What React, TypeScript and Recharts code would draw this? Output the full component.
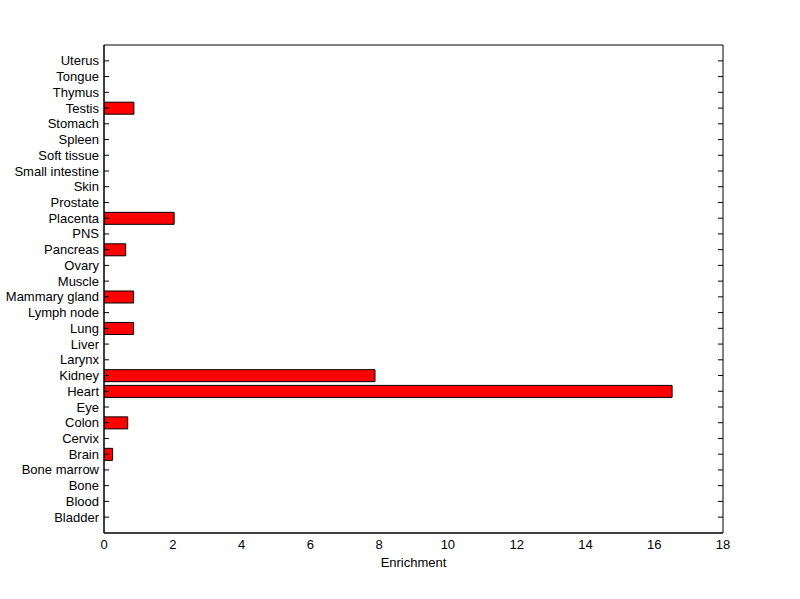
import { Bar, BarChart, XAxis, YAxis } from "recharts";

// bottom to top, as on the chart
const TISSUES = [
  "Bladder", "Blood", "Bone", "Bone marrow", "Brain", "Cervix", "Colon", "Eye",
  "Heart", "Kidney", "Larynx", "Liver", "Lung", "Lymph node", "Mammary gland",
  "Muscle", "Ovary", "Pancreas", "PNS", "Placenta", "Prostate", "Skin",
  "Small intestine", "Soft tissue", "Spleen", "Stomach", "Testis", "Thymus",
  "Tongue", "Uterus",
];
const ENRICHMENT = [
  0, 0, 0, 0, 0.25, 0, 0.69, 0,
  16.52, 7.88, 0, 0, 0.86, 0, 0.86,
  0, 0, 0.63, 0, 2.04, 0, 0,
  0, 0, 0, 0, 0.87, 0,
  0, 0,
];
const X_TICKS = [0, 2, 4, 6, 8, 10, 12, 14, 16, 18];

const data = TISSUES.map((name, i) => ({ name, value: ENRICHMENT[i] }));

const FONT = "Arial, 'Liberation Sans', Helvetica, sans-serif";
const tickStyle = { fill: "#000", fontSize: 13, fontFamily: FONT };
const line = { stroke: "#000", strokeWidth: 1 };
const PAD = { top: 8, bottom: 8 };

const NoLabel = () => <g />;

const TissueTick = ({ x, y, payload }: any) => (
  <text
    x={x}
    y={y}
    textAnchor="end"
    dominantBaseline="central"
    fill="#000"
    fontSize={13}
    fontFamily={FONT}
  >
    {payload.value}
  </text>
);

export default function App() {
  return (
    <div style={{ position: "absolute", left: 0, top: 0, background: "#fff" }}>
      <BarChart
        width={800}
        height={599}
        data={data}
        layout="vertical"
        margin={{ top: 45, right: 77, bottom: 30, left: 0 }}
        barSize={12}
      >
        <XAxis
          xAxisId="main"
          type="number"
          domain={[0, 18]}
          ticks={X_TICKS}
          allowDataOverflow
          height={36}
          tickSize={0}
          tickMargin={7}
          tickLine={false}
          axisLine={line}
          tick={tickStyle}
          label={{
            value: "Enrichment",
            position: "insideBottom",
            offset: 2,
            style: { fill: "#000", fontSize: 13, fontFamily: FONT },
          }}
        />
        <XAxis
          xAxisId="bottomTicks"
          type="number"
          domain={[0, 18]}
          ticks={X_TICKS}
          mirror
          tickSize={5}
          tickLine={line}
          axisLine={line}
          tick={NoLabel}
        />
        <XAxis
          xAxisId="top"
          orientation="top"
          type="number"
          domain={[0, 18]}
          ticks={X_TICKS}
          mirror
          tickSize={5}
          tickLine={line}
          axisLine={line}
          tick={NoLabel}
        />
        <YAxis
          yAxisId="main"
          type="category"
          dataKey="name"
          reversed
          interval={0}
          padding={PAD}
          width={104}
          tickSize={0}
          tickMargin={5}
          tickLine={false}
          axisLine={line}
          tick={TissueTick}
        />
        <YAxis
          yAxisId="leftTicks"
          type="category"
          dataKey="name"
          reversed
          interval={0}
          padding={PAD}
          mirror
          tickSize={5}
          tickLine={line}
          axisLine={line}
          tick={NoLabel}
        />
        <YAxis
          yAxisId="right"
          orientation="right"
          type="category"
          dataKey="name"
          reversed
          interval={0}
          padding={PAD}
          mirror
          tickSize={5}
          tickLine={line}
          axisLine={line}
          tick={NoLabel}
        />
        <Bar
          xAxisId="main"
          yAxisId="main"
          dataKey="value"
          fill="#ff0000"
          stroke="#000"
          strokeWidth={1}
          isAnimationActive={false}
        />
      </BarChart>
    </div>
  );
}
